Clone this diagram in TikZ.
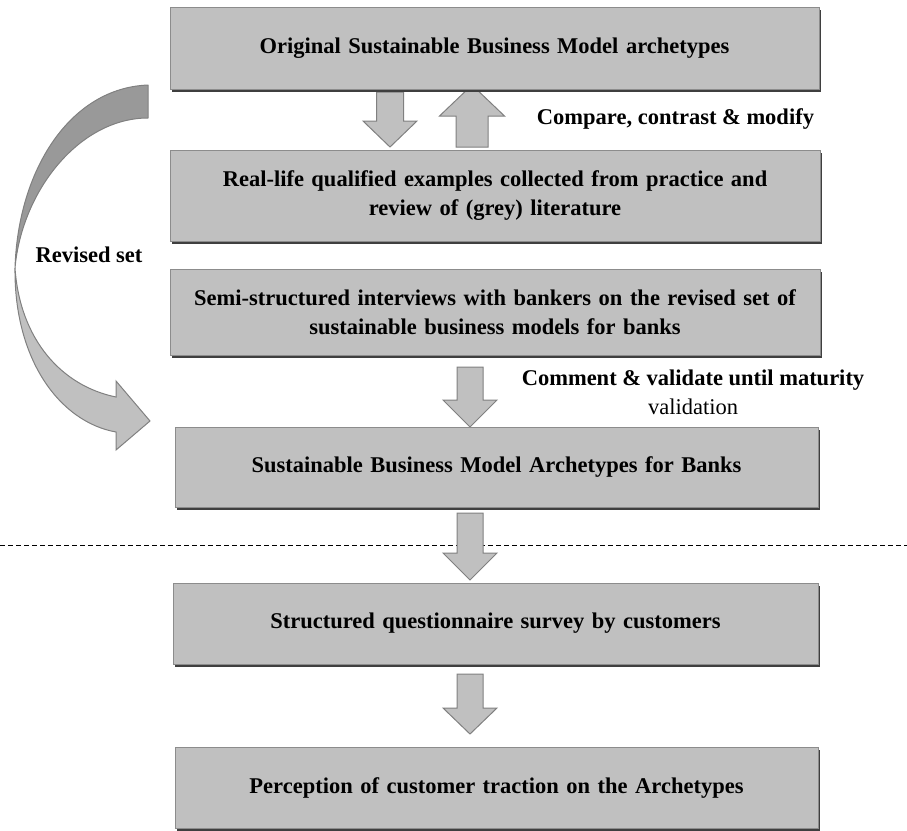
\documentclass[tikz,border=0pt]{standalone}
\usepackage{fontspec}
\setmainfont{Liberation Serif}
\usetikzlibrary{shadows}
\definecolor{boxfill}{HTML}{C0C0C0}
\definecolor{boxline}{HTML}{8C8C8C}
\definecolor{shadowc}{HTML}{3F3F3F}
\definecolor{arrline}{HTML}{808080}
\definecolor{backface}{HTML}{999999}
\newcommand\blockarr[6]{% cx, ystart, yheadbase, ytip, shaft half, head half
  \draw[barrow] (#1-#5,#2) -- (#1+#5,#2) -- (#1+#5,#3) -- (#1+#6,#3) -- (#1,#4)
    -- (#1-#6,#3) -- (#1-#5,#3) -- cycle;}
\begin{document}
\begin{tikzpicture}[x=1pt,y=-1pt,
  font=\fontsize{22.5}{28.5}\selectfont\bfseries,
  box/.style={draw=boxline, fill=boxfill, line width=0.8pt, inner sep=0pt,
    align=center, text width=620pt,
    general shadow={fill=shadowc, shadow xshift=1.6pt, shadow yshift=-3.4pt}},
  barrow/.style={draw=arrline, fill=boxfill, line width=1pt, line join=miter},
  lbl/.style={inner sep=0pt, align=center}]
\useasboundingbox (0,0) rectangle (907,830);

% dashed separator
\coordinate (dl) at (0,545);
\coordinate (dr) at (907,545);
\draw[black, line width=0.8pt, dash pattern=on 5pt off 3pt] (dl) -- (dr);

% block arrows
\blockarr{390}{92}{121}{147}{13.5}{27}
\blockarr{472}{147}{116}{85}{16}{32.5}
\blockarr{470}{367}{400}{427}{13}{27}
\blockarr{470}{513}{553}{580}{13}{27}
\blockarr{470}{674}{708}{734}{13}{27}

% boxes
\node[box, minimum width=649pt, minimum height=82pt] (b1) at (494.5,48)
  {Original Sustainable Business Model archetypes};
\node[box, minimum width=650pt, minimum height=91pt] (b2) at (495,195.5)
  {Real-life qualified examples collected from practice and\\review of (grey) literature};
\node[box, minimum width=650pt, minimum height=86pt] (b3) at (495,312)
  {Semi-structured interviews with bankers on the revised set of\\sustainable business models for banks};
\node[box, minimum width=643pt, minimum height=80pt] (b4) at (496.5,467)
  {Sustainable Business Model Archetypes for Banks};
\node[box, minimum width=645pt, minimum height=81pt] (b5) at (495.5,623.5)
  {Structured questionnaire survey by customers};
\node[box, minimum width=643pt, minimum height=81pt] (b6) at (496.5,787.5)
  {Perception of customer traction on the Archetypes};

% curved arrow (Revised set)
\fill[backface, draw=arrline, line width=1pt, line join=round]
  (148,85) .. controls (70,88) and (18,170) .. (15,268)
  .. controls (22,190) and (80,118) .. (148,118) -- cycle;
\fill[boxfill, draw=arrline, line width=1pt, line join=miter]
  (15,268) .. controls (14,360) and (60,422) .. (116,432)
  -- (116,450) -- (150,421) -- (116,381) -- (116,397)
  .. controls (62,386) and (20,340) .. (15,268) -- cycle;
\coordinate (ctop) at (148,101);
\coordinate (ctip) at (150,421);

% labels
\node[lbl] (l1) at (675.5,119) {Compare, contrast \& modify};
\node[lbl] (l2) at (89,255) {Revised set};
\node[lbl] (l3) at (693,380) {Comment \& validate until maturity};
\node[lbl, font=\fontsize{22.5}{28.5}\selectfont\mdseries] (l4) at (693,407) {validation};
\end{tikzpicture}
\end{document}
